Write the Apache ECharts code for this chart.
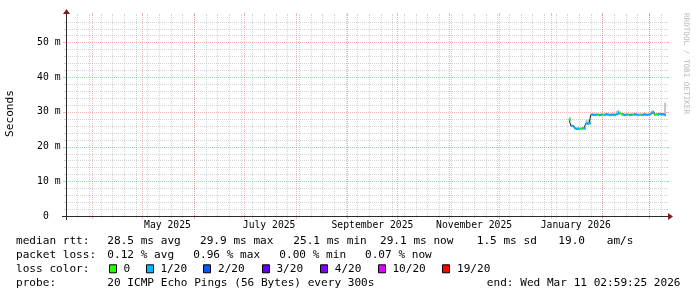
<!DOCTYPE html>
<html><head><meta charset="utf-8">
<script src="https://cdn.jsdelivr.net/npm/echarts@6/dist/echarts.min.js"></script>
<style>html,body{margin:0;padding:0;background:#fff}#c{width:697px;height:297px}</style>
</head><body><div id="c"></div>
<script>
// ---------------- data ----------------
const endStamp = '2026-03-11T02:59:25Z';
const rangeDays = 360;
const firstDay = '2026-01-12';
const medianMs = [27.8, 26.0, 25.9, 25.3, 25.1, 25.2, 25.1, 25.2, 25.3, 25.2,
  26.7, 26.6, 26.7, 29.2, 29.2, 29.1, 29.2, 29.2, 29.1, 29.2,
  29.1, 29.2, 29.3, 29.2, 29.1, 29.2, 29.2, 29.1, 29.3, 29.8,
  29.6, 29.3, 29.2, 29.1, 29.2, 29.2, 29.1, 29.2, 29.2, 29.3,
  29.2, 29.1, 29.2, 29.1, 29.2, 29.3, 29.1, 29.2, 29.3, 29.7,
  29.9, 29.2, 29.3, 29.2, 29.4, 29.2, 29.3, 29.1];
const lossCount = [0, 1, 1, 1, 1, 1, 0, 0, 1, 1,
  1, 1, 1, 1, 1, 1, 1, 0, 1, 1,
  0, 1, 1, 1, 1, 1, 1, 1, 1, 1,
  0, 0, 1, 1, 1, 0, 1, 1, 0, 1,
  1, 1, 0, 1, 1, 1, 1, 1, 1, 1,
  1, 0, 0, 1, 1, 1, 1, 1];
const smokeHighMs = [28.6, 26.3, 26.2, 25.6, 25.4, 25.5, 25.4, 25.5, 25.6, 25.5,
  27.8, 27.6, 27.9, 29.5, 29.5, 29.4, 29.5, 29.5, 29.4, 29.5,
  29.4, 29.5, 29.6, 29.5, 29.4, 29.5, 29.5, 29.4, 30.2, 30.6,
  30.2, 29.6, 29.5, 29.4, 29.5, 29.5, 29.4, 29.5, 29.5, 29.6,
  29.5, 29.4, 29.5, 29.4, 29.5, 29.6, 29.4, 29.5, 29.6, 30.3,
  30.5, 29.5, 29.6, 29.5, 29.7, 29.5, 29.6, 32.6];
const smokeLowMs = [27.5, 25.7, 25.6, 25.0, 24.8, 24.9, 24.8, 24.9, 25.0, 24.9,
  26.4, 26.3, 26.4, 28.9, 28.9, 28.8, 28.9, 28.9, 28.8, 28.9,
  28.8, 28.9, 29.0, 28.9, 28.8, 28.9, 28.9, 28.8, 29.0, 29.5,
  29.3, 29.0, 28.9, 28.8, 28.9, 28.9, 28.8, 28.9, 28.9, 29.0,
  28.9, 28.8, 28.9, 28.8, 28.9, 29.0, 28.8, 28.9, 29.0, 29.4,
  29.6, 28.9, 29.0, 28.9, 29.1, 28.9, 29.0, 28.8];
const lossLevels = [0, 1, 2, 3, 4, 10, 19];
const lossLabels = ['0', '1/20', '2/20', '3/20', '4/20', '10/20', '19/20'];
const lossColors = ['#26ff00', '#00b8ff', '#0059ff', '#5e00ff', '#7e00ff', '#dd00ff', '#ff0000'];
const yMaxMs = 57.6;
const yTickValues = [0, 10, 20, 30, 40, 50];
const yTickLabels = ['0  ', '10 m', '20 m', '30 m', '40 m', '50 m'];
const xTickDates = ['2025-05-16', '2025-07-16', '2025-09-16', '2025-11-16', '2026-01-16'];
const xTickLabels = ['May 2025', 'July 2025', 'September 2025', 'November 2025', 'January 2026'];
const rttStats = ['28.5 ms avg', '29.9 ms max', '25.1 ms min', '29.1 ms now', '1.5 ms sd', '19.0', 'am/s'];
const lossStats = ['0.12 % avg', '0.96 % max', '0.00 % min', '0.07 % now'];
const probeText = '20 ICMP Echo Pings (56 Bytes) every 300s';
const endText = 'end: Wed Mar 11 02:59:25 2026';
const yTitle = 'Seconds';
const watermark = 'RRDTOOL / TOBI OETIKER';

// ---------------- derived ----------------
const DAY = 86400000;
const endTime = Date.parse(endStamp);
const startTime = endTime - rangeDays * DAY;
const day0 = Date.parse(firstDay + 'T00:00:00Z');
const dayTimes = medianMs.map((_, i) => day0 + i * DAY);
const nextTime = i => (i + 1 < dayTimes.length ? dayTimes[i + 1] : endTime);
const lossIndex = l => { const k = lossLevels.findIndex(v => v >= l); return k < 0 ? lossLevels.length - 1 : k; };

// layout
const L = 66, T = 16, W = 600, H = 200;
const FONT = 'DejaVu Sans Mono';
const FS = 11.1;      // legend / unit font (8pt @100dpi)
const AFS = 9.72;     // axis font (7pt @100dpi)
const GRID_C = 'rgba(143,143,143,0.38)';
const MGRID_C = 'rgba(222,79,79,0.42)';
const AXIS_C = '#2a2a2a';
const ARROW_C = '#801f1f';

// grid line list: [x or startTime, kind, yvalue]
const gridData = [];
{
  let d = new Date(startTime);
  let t = Date.UTC(d.getUTCFullYear(), d.getUTCMonth(), d.getUTCDate());
  while (new Date(t).getUTCDay() !== 0 || t < startTime) t += DAY;
  for (; t <= endTime; t += 7 * DAY) gridData.push([t, 0, 0]);
  let y = d.getUTCFullYear(), m = d.getUTCMonth() + 1;
  for (;;) {
    const mt = Date.UTC(y, m, 1);
    if (mt > endTime) break;
    gridData.push([mt, 1, 0]);
    m++; if (m > 11) { m = 0; y++; }
  }
  for (let v = 2; v < yMaxMs; v += 2) gridData.push([startTime, v % 10 === 0 ? 3 : 2, v]);
}

const chart = echarts.init(document.getElementById('c'), null, { renderer: 'canvas' });

function gridRender(params, api) {
  const kind = api.value(1);
  const major = kind % 2 === 1;
  const color = major ? MGRID_C : GRID_C;
  const ext = major ? 3 : 2;
  const X0 = api.coord([startTime, 0])[0], X1 = api.coord([endTime, 0])[0];
  const Y0 = api.coord([startTime, 0])[1], Y1 = api.coord([startTime, yMaxMs])[1];
  const children = [];
  if (kind < 2) {
    const x = Math.round(api.coord([api.value(0), 0])[0]) + 0.5;
    children.push({ type: 'line', shape: { x1: x, y1: Y0, x2: x, y2: Y1 }, style: { stroke: color, lineWidth: 1, lineDash: [1, 1] } });
    children.push({ type: 'line', shape: { x1: x, y1: Y0, x2: x, y2: Y0 + ext }, style: { stroke: color, lineWidth: 1 } });
    children.push({ type: 'line', shape: { x1: x, y1: Y1 - ext, x2: x, y2: Y1 }, style: { stroke: color, lineWidth: 1 } });
  } else {
    const y = Math.round(api.coord([startTime, api.value(2)])[1]) + 0.5;
    children.push({ type: 'line', shape: { x1: X0, y1: y, x2: X1, y2: y }, style: { stroke: color, lineWidth: 1, lineDash: [1, 1] } });
    children.push({ type: 'line', shape: { x1: X0 - ext, y1: y, x2: X0, y2: y }, style: { stroke: color, lineWidth: 1 } });
    children.push({ type: 'line', shape: { x1: X1, y1: y, x2: X1 + ext, y2: y }, style: { stroke: color, lineWidth: 1 } });
  }
  return { type: 'group', children };
}

const smokeData = dayTimes.map((t, i) => [t, smokeLowMs[i], smokeHighMs[i], nextTime(i)]);
function smokeRender(params, api) {
  const p0 = api.coord([api.value(0), api.value(2)]);
  const p1 = api.coord([api.value(3), api.value(1)]);
  return { type: 'rect', shape: { x: p0[0], y: p0[1], width: p1[0] - p0[0], height: p1[1] - p0[1] }, style: { fill: '#c4c4c4' } };
}

const bandData = dayTimes.map((t, i) => [t, medianMs[i], lossIndex(lossCount[i]), nextTime(i)]);
function bandRender(params, api) {
  const p0 = api.coord([api.value(0), api.value(1)]);
  const p1 = api.coord([api.value(3), api.value(1)]);
  return { type: 'rect', shape: { x: p0[0], y: p0[1] - 1.2, width: p1[0] - p0[0], height: 2.4 }, style: { fill: lossColors[api.value(2)] } };
}

const stepData = dayTimes.map((t, i) => [t, medianMs[i]]);
stepData.push([endTime, medianMs[medianMs.length - 1]]);

// graphics: axes, arrows, texts
const X0 = L, Y0 = T + H, X1 = L + W, Y1 = T;
const txt = (text, x, y, opts = {}) => ({
  type: 'text', x, y, silent: true,
  style: Object.assign({ text, fill: '#000', fontFamily: FONT, fontSize: FS, textAlign: 'left', textVerticalAlign: 'middle' }, opts)
});
const graphics = [];
graphics.push({ type: 'line', silent: true, z: 50, shape: { x1: X0 - 4, y1: Y0 + 0.5, x2: X1 + 4, y2: Y0 + 0.5 }, style: { stroke: AXIS_C, lineWidth: 1 } });
graphics.push({ type: 'line', silent: true, z: 50, shape: { x1: X0 + 0.5, y1: Y0 + 4, x2: X0 + 0.5, y2: Y1 - 4 }, style: { stroke: AXIS_C, lineWidth: 1 } });
graphics.push({ type: 'polygon', silent: true, z: 51, shape: { points: [[X1 + 2, Y0 - 3], [X1 + 2, Y0 + 4], [X1 + 7, Y0 + 0.5]] }, style: { fill: ARROW_C } });
graphics.push({ type: 'polygon', silent: true, z: 51, shape: { points: [[X0 - 3, Y1 - 2], [X0 + 4, Y1 - 2], [X0 + 0.5, Y1 - 7]] }, style: { fill: ARROW_C } });
graphics.push(Object.assign(txt(yTitle, 10.5, 113.5, { textAlign: 'center' }), { rotation: Math.PI / 2 }));
graphics.push(Object.assign(txt(watermark, 685.5, 13, { fontSize: 7.64, fill: '#b8b8b8', textAlign: 'left' }), { rotation: -Math.PI / 2 }));

const rowY = [241.2, 255.3, 269.3, 283.5];
graphics.push(txt('median rtt:', 16, rowY[0]));
[107.3, 200, 293.3, 380, 476.7, 558.3, 606.7].forEach((x, i) => graphics.push(txt(rttStats[i], x, rowY[0])));
graphics.push(txt('packet loss:', 16, rowY[1]));
[107.3, 193.3, 279.3, 365].forEach((x, i) => graphics.push(txt(lossStats[i], x, rowY[1])));
graphics.push(txt('loss color:', 16, rowY[2]));
[108.7, 145.7, 203.3, 261.7, 320, 377.7, 442.3].forEach((x, i) => {
  graphics.push({ type: 'rect', silent: true, shape: { x: Math.round(x) + 0.5, y: rowY[2] - 4.5, width: 7, height: 8 }, style: { fill: lossColors[i], stroke: '#000', lineWidth: 1 } });
  graphics.push(txt(lossLabels[i], x + 14.7, rowY[2]));
});
graphics.push(txt('probe:', 16, rowY[3]));
graphics.push(txt(probeText, 107.3, rowY[3]));
graphics.push(txt(endText, 680.5, rowY[3], { textAlign: 'right' }));

const xLabelTimes = xTickDates.map(s => Date.parse(s + 'T00:00:00Z'));

chart.setOption({
  animation: false,
  backgroundColor: '#ffffff',
  grid: { left: L, top: T, width: W, height: H, containLabel: false },
  xAxis: {
    type: 'value', min: startTime, max: endTime,
    axisLine: { show: false }, axisTick: { show: false }, splitLine: { show: false },
    axisLabel: {
      customValues: xLabelTimes, margin: 4.5, color: '#000', fontFamily: FONT, fontSize: AFS,
      formatter: v => { const k = xLabelTimes.indexOf(v); return k >= 0 ? xTickLabels[k] : ''; }
    }
  },
  yAxis: {
    type: 'value', min: 0, max: yMaxMs,
    axisLine: { show: false }, axisTick: { show: false }, splitLine: { show: false },
    axisLabel: {
      customValues: yTickValues, margin: 5.5, color: '#000', fontFamily: FONT, fontSize: AFS,
      formatter: v => { const k = yTickValues.indexOf(v); return k >= 0 ? yTickLabels[k] : ''; }
    }
  },
  graphic: graphics,
  series: [
    { type: 'custom', name: 'grid', z: 1, silent: true, clip: false, data: gridData, renderItem: gridRender, encode: { x: 0, y: 1 } },
    { type: 'custom', name: 'smoke', z: 2, silent: true, data: smokeData, renderItem: smokeRender, encode: { x: [0, 3], y: [1, 2] } },
    { type: 'line', name: 'median-step', z: 3, silent: true, step: 'end', symbol: 'none', data: stepData, lineStyle: { color: '#222', width: 1 } },
    { type: 'custom', name: 'median', z: 4, silent: true, data: bandData, renderItem: bandRender, encode: { x: [0, 3], y: 1 } }
  ]
});
</script></body></html>
